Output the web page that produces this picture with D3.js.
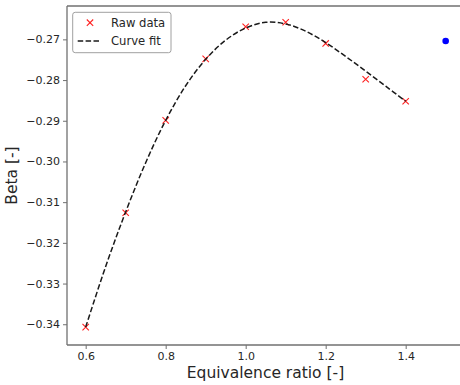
<!DOCTYPE html>
<html>
<head>
<meta charset="utf-8">
<script src="https://cdn.jsdelivr.net/npm/d3@7"></script>
<style>
  html, body { margin: 0; padding: 0; background: #fff; }
  svg { display: block; font-family: "DejaVu Sans", sans-serif; }
</style>
</head>
<body>
<svg id="chart" width="460" height="385"></svg>
<script>
// ---- data ----
const rawX = [0.6, 0.7, 0.8, 0.9, 1.0, 1.1, 1.2, 1.3, 1.4];
const rawY = [-0.3407, -0.3126, -0.2899, -0.2748, -0.2669, -0.2658, -0.2710, -0.2798, -0.2852];
const fitX = [0.60, 0.65, 0.70, 0.75, 0.80, 0.85, 0.90, 0.95, 1.00, 1.05, 1.10, 1.15, 1.20, 1.25, 1.30, 1.35, 1.40];
const fitY = [-0.3407, -0.3258, -0.3124, -0.3003, -0.2899, -0.2814, -0.2749, -0.2702, -0.2672, -0.2658, -0.2662, -0.2680, -0.2708, -0.2742, -0.2778, -0.2815, -0.2852];
const extraX = [1.5];
const extraY = [-0.2704];
const xTicks = [0.6, 0.8, 1.0, 1.2, 1.4];
const yTicks = [-0.34, -0.33, -0.32, -0.31, -0.30, -0.29, -0.28, -0.27];
const legendLabels = ["Raw data", "Curve fit"];
const xLabel = "Equivalence ratio [-]";
const yLabel = "Beta [-]";

// ---- layout ----
const L = 67, T = 6, R = 464, B = 345;
const svg = d3.select("#chart");
const x = d3.scaleLinear().domain([0.5533, 1.5458]).range([L, R]);
const y = d3.scaleLinear().domain([-0.3451, -0.2618]).range([B, T]);
const spineColor = "#707070";
const textColor = "#262626";

// axes
const fmtY = d => d3.format(".2f")(d).replace("-", "\u2212");
const xAxis = svg.append("g").attr("transform", `translate(0,${B})`)
  .call(d3.axisBottom(x).tickValues(xTicks).tickFormat(d3.format(".1f")).tickSizeOuter(0).tickSize(4).tickPadding(3));
const yAxis = svg.append("g").attr("transform", `translate(${L},0)`)
  .call(d3.axisLeft(y).tickValues(yTicks).tickFormat(fmtY).tickSizeOuter(0).tickSize(4).tickPadding(3));
[xAxis, yAxis].forEach(g => {
  g.select(".domain").remove();
  g.selectAll(".tick line").attr("stroke", spineColor).attr("stroke-width", 1);
  g.selectAll(".tick text").attr("fill", textColor).attr("font-size", 11)
    .attr("font-family", "DejaVu Sans, sans-serif");
});

// spines
svg.append("line").attr("x1", L).attr("x2", L).attr("y1", T).attr("y2", B)
  .attr("stroke", spineColor).attr("stroke-width", 1.3);
svg.append("line").attr("x1", L).attr("x2", R).attr("y1", B).attr("y2", B)
  .attr("stroke", spineColor).attr("stroke-width", 1.3);
svg.append("line").attr("x1", L).attr("x2", R).attr("y1", T).attr("y2", T)
  .attr("stroke", spineColor).attr("stroke-width", 1.3);
svg.append("line").attr("x1", R).attr("x2", R).attr("y1", T).attr("y2", B)
  .attr("stroke", spineColor).attr("stroke-width", 1.3);

// raw data markers
const xm = 3.2;
const rawPts = rawX.map((v, i) => [v, rawY[i]]);
const mk = svg.append("g");
rawPts.forEach(p => {
  const cx = x(p[0]), cy = y(p[1]);
  mk.append("path")
    .attr("d", `M${cx - xm},${cy - xm}L${cx + xm},${cy + xm}M${cx - xm},${cy + xm}L${cx + xm},${cy - xm}`)
    .attr("stroke", "#ff2020").attr("stroke-width", 1.1).attr("fill", "none");
});

// curve fit
const fitPts = fitX.map((v, i) => [v, fitY[i]]);
svg.append("path").datum(fitPts)
  .attr("d", d3.line().x(d => x(d[0])).y(d => y(d[1])).curve(d3.curveCatmullRom.alpha(0.5)))
  .attr("fill", "none").attr("stroke", "#1a1a1a").attr("stroke-width", 1.5)
  .attr("stroke-dasharray", "5.5,2.4");

// extra blue point
svg.selectAll("circle.extra").data(extraX.map((v, i) => [v, extraY[i]])).enter()
  .append("circle").attr("class", "extra")
  .attr("cx", d => x(d[0])).attr("cy", d => y(d[1])).attr("r", 3.3).attr("fill", "#0000ff");

// axis labels
svg.append("text").attr("x", (L + R) / 2).attr("y", 378).attr("text-anchor", "middle")
  .attr("font-size", 15.5).attr("fill", textColor).text(xLabel);
svg.append("text").attr("transform", `translate(17,${(T + B) / 2}) rotate(-90)`)
  .attr("text-anchor", "middle").attr("font-size", 15.5).attr("fill", textColor).text(yLabel);

// legend
const lg = svg.append("g");
lg.append("rect").attr("x", 72.7).attr("y", 12.3).attr("width", 98.3).attr("height", 40.4)
  .attr("rx", 2.5).attr("fill", "#fff").attr("fill-opacity", 0.85)
  .attr("stroke", "#a0a0a0").attr("stroke-width", 1);
const lx = 90, ly1 = 22.7, ly2 = 41;
lg.append("path")
  .attr("d", `M${lx - xm},${ly1 - xm}L${lx + xm},${ly1 + xm}M${lx - xm},${ly1 + xm}L${lx + xm},${ly1 - xm}`)
  .attr("stroke", "#ff2020").attr("stroke-width", 1.1);
lg.append("line").attr("x1", 77.7).attr("x2", 100).attr("y1", ly2).attr("y2", ly2)
  .attr("stroke", "#1a1a1a").attr("stroke-width", 1.5).attr("stroke-dasharray", "5.5,2.4");
lg.selectAll("text.lt").data(legendLabels).enter().append("text").attr("class", "lt")
  .attr("x", 111).attr("y", (d, i) => i === 0 ? ly1 : ly2).attr("dy", "0.35em")
  .attr("font-size", 11.6).attr("fill", textColor).text(d => d);
</script>
</body>
</html>
